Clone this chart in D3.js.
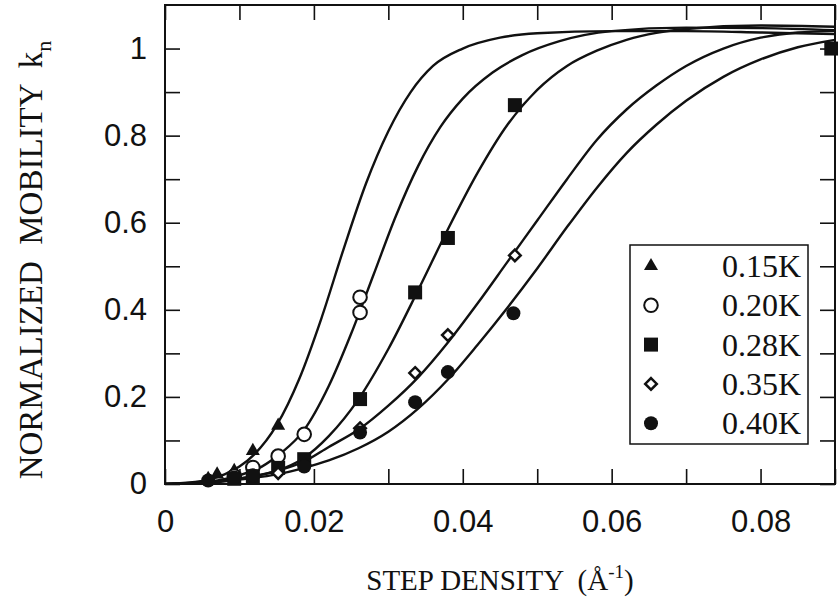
<!DOCTYPE html>
<html>
<head>
<meta charset="utf-8">
<script src="https://cdn.jsdelivr.net/npm/d3@7"></script>
<style>
  body { margin: 0; background: #fff; }
  svg { display: block; }
</style>
</head>
<body>
<svg></svg>
<script>
// measured points, one array pair per temperature
const temps = ["0.15K", "0.20K", "0.28K", "0.35K", "0.40K"];
const shapes = ["triangle", "circleOpen", "square", "diamond", "circleFilled"];

const pts015x = [0.0058, 0.0070, 0.0093, 0.0118, 0.0152];
const pts015y = [0.012, 0.022, 0.030, 0.076, 0.134];
const pts020x = [0.0093, 0.0118, 0.0152, 0.0187, 0.0262, 0.0262];
const pts020y = [0.018, 0.038, 0.064, 0.114, 0.394, 0.429];
const pts028x = [0.0093, 0.0118, 0.0152, 0.0187, 0.0262, 0.0336, 0.0380, 0.0470, 0.0895];
const pts028y = [0.012, 0.018, 0.037, 0.057, 0.195, 0.440, 0.565, 0.870, 1.000];
const pts035x = [0.0118, 0.0152, 0.0187, 0.0262, 0.0336, 0.0380, 0.0470];
const pts035y = [0.015, 0.025, 0.045, 0.128, 0.255, 0.342, 0.525];
const pts040x = [0.0058, 0.0093, 0.0118, 0.0187, 0.0262, 0.0336, 0.0380, 0.0468];
const pts040y = [0.008, 0.015, 0.020, 0.040, 0.118, 0.188, 0.257, 0.392];

// fitted curves
const fit015x = [0, 0.005, 0.008, 0.010, 0.012, 0.015, 0.018, 0.021, 0.024, 0.027, 0.030, 0.033, 0.036, 0.040, 0.045, 0.050, 0.060, 0.070, 0.080, 0.090];
const fit015y = [0, 0.007, 0.022, 0.040, 0.068, 0.135, 0.240, 0.380, 0.540, 0.690, 0.810, 0.900, 0.960, 1.000, 1.025, 1.035, 1.040, 1.040, 1.037, 1.033];
const fit020x = [0, 0.006, 0.010, 0.013, 0.0155, 0.0186, 0.022, 0.025, 0.028, 0.031, 0.034, 0.037, 0.040, 0.044, 0.048, 0.053, 0.060, 0.070, 0.080, 0.090];
const fit020y = [0, 0.006, 0.020, 0.040, 0.070, 0.122, 0.225, 0.345, 0.480, 0.615, 0.730, 0.820, 0.885, 0.945, 0.985, 1.017, 1.040, 1.048, 1.047, 1.042];
const fit028x = [0, 0.006, 0.010, 0.015, 0.0185, 0.022, 0.026, 0.030, 0.034, 0.038, 0.042, 0.046, 0.050, 0.054, 0.058, 0.062, 0.066, 0.070, 0.080, 0.090];
const fit028y = [0, 0.004, 0.013, 0.030, 0.058, 0.110, 0.195, 0.310, 0.445, 0.585, 0.715, 0.825, 0.905, 0.960, 0.995, 1.020, 1.036, 1.045, 1.053, 1.050];
const fit035x = [0, 0.006, 0.010, 0.015, 0.0185, 0.022, 0.026, 0.030, 0.034, 0.038, 0.042, 0.046, 0.050, 0.054, 0.058, 0.062, 0.066, 0.070, 0.075, 0.080, 0.085, 0.090];
const fit035y = [0, 0.004, 0.012, 0.030, 0.050, 0.085, 0.125, 0.180, 0.245, 0.325, 0.415, 0.510, 0.605, 0.700, 0.790, 0.860, 0.915, 0.960, 1.000, 1.025, 1.037, 1.040];
const fit040x = [0, 0.006, 0.010, 0.015, 0.0185, 0.022, 0.026, 0.030, 0.034, 0.038, 0.042, 0.046, 0.050, 0.054, 0.058, 0.062, 0.066, 0.070, 0.075, 0.080, 0.085, 0.090];
const fit040y = [0, 0.003, 0.010, 0.022, 0.036, 0.054, 0.082, 0.120, 0.173, 0.240, 0.320, 0.405, 0.495, 0.590, 0.680, 0.760, 0.825, 0.880, 0.935, 0.975, 1.003, 1.020];

const xTicks = [0, 0.01, 0.02, 0.03, 0.04, 0.05, 0.06, 0.07, 0.08, 0.09];
const yTicks = [0, 0.1, 0.2, 0.3, 0.4, 0.5, 0.6, 0.7, 0.8, 0.9, 1.0];

const points = [
  [pts015x, pts015y], [pts020x, pts020y], [pts028x, pts028y], [pts035x, pts035y], [pts040x, pts040y],
].map(([xs, ys]) => xs.map((v, i) => ({ x: v, y: ys[i] })));
const fits = [
  [fit015x, fit015y], [fit020x, fit020y], [fit028x, fit028y], [fit035x, fit035y], [fit040x, fit040y],
].map(([xs, ys]) => xs.map((v, i) => ({ x: v, y: ys[i] })));

// 边距、宽高
const W = 838, H = 602;
const margin = { top: 5, right: 3, bottom: 118, left: 165 };
const width = W - margin.left - margin.right;
const height = H - margin.top - margin.bottom;

const x = d3.scaleLinear().domain([0, 0.09]).range([0, width]);
const y = d3.scaleLinear().domain([0, 1.1]).range([height, 0]);

const svg = d3.select("svg").attr("width", W).attr("height", H);
const g = svg.append("g").attr("transform", `translate(${margin.left},${margin.top})`);

const sans = "'Liberation Sans', Arial, Helvetica, sans-serif";
const serif = "'Liberation Serif', 'Times New Roman', Times, serif";

// axes, ticks pointing inward
const fmtX = (d, i) => (i % 2 ? "" : d === 0 ? "0" : d.toFixed(2));
const fmtY = (d, i) => (i % 2 ? "" : d === 0 ? "0" : d === 1 ? "1" : d.toFixed(1));

g.append("g")
  .attr("class", "x-axis")
  .attr("transform", `translate(0,${height})`)
  .call(d3.axisBottom(x).tickValues(xTicks).tickFormat(fmtX).tickSizeInner(-15).tickSizeOuter(0).tickPadding(20));
g.append("g")
  .call(d3.axisTop(x).tickValues(xTicks).tickFormat("").tickSizeInner(-15).tickSizeOuter(0));
g.append("g")
  .attr("class", "y-axis")
  .call(d3.axisLeft(y).tickValues(yTicks).tickFormat(fmtY).tickSizeInner(-15).tickSizeOuter(0).tickPadding(18));
g.append("g")
  .attr("transform", `translate(${width},0)`)
  .call(d3.axisRight(y).tickValues(yTicks).tickFormat("").tickSizeInner(-15).tickSizeOuter(0));

g.selectAll(".domain").remove();
g.selectAll(".tick line").attr("stroke", "#111").attr("stroke-width", 1.6);
g.selectAll(".x-axis text, .y-axis text")
  .attr("fill", "#111")
  .style("font-family", sans)
  .style("font-size", "31px");
g.selectAll(".x-axis text").attr("dy", "0.9em");

g.append("rect")
  .attr("x", 0).attr("y", 0)
  .attr("width", width).attr("height", height)
  .attr("fill", "none").attr("stroke", "#111").attr("stroke-width", 2);

// fitted curves
g.append("clipPath").attr("id", "clip")
  .append("rect").attr("width", width).attr("height", height);

const line = d3.line()
  .x((d) => x(d.x))
  .y((d) => y(d.y))
  .curve(d3.curveMonotoneX);

g.append("g")
  .attr("clip-path", "url(#clip)")
  .selectAll("path")
  .data(fits)
  .join("path")
  .attr("d", line)
  .attr("fill", "none")
  .attr("stroke", "#111")
  .attr("stroke-width", 2.4);

// markers
function drawMarker(sel, shape, s) {
  if (shape === "triangle") {
    sel.append("path").attr("d", d3.symbol(d3.symbolTriangle, 85 * s)()).attr("fill", "#111");
  } else if (shape === "circleOpen") {
    sel.append("circle").attr("r", 6.8 * s).attr("fill", "#fff").attr("stroke", "#111").attr("stroke-width", 2);
  } else if (shape === "square") {
    sel.append("rect").attr("x", -7 * s).attr("y", -7 * s).attr("width", 14 * s).attr("height", 14 * s).attr("fill", "#111");
  } else if (shape === "diamond") {
    const r = 5.8 * s;
    sel.append("path").attr("d", `M0,${-r}L${r},0L0,${r}L${-r},0Z`)
      .attr("fill", "#fff").attr("stroke", "#111").attr("stroke-width", 2.5);
  } else {
    sel.append("circle").attr("r", 7 * s).attr("fill", "#111");
  }
}

points.forEach((series, k) => {
  g.append("g")
    .selectAll("g")
    .data(series)
    .join("g")
    .attr("transform", (d) => `translate(${x(d.x)},${y(d.y)})`)
    .each(function () { drawMarker(d3.select(this), shapes[k], 1); });
});

// legend
const lg = g.append("g").attr("transform", `translate(${630 - margin.left},${245 - margin.top})`);
lg.append("rect")
  .attr("width", 178).attr("height", 199)
  .attr("fill", "#fff").attr("stroke", "#111").attr("stroke-width", 1.5);
temps.forEach((t, k) => {
  const row = lg.append("g").attr("transform", `translate(0,${21 + k * 39.3})`);
  const m = row.append("g").attr("transform", "translate(21,0)");
  drawMarker(m, shapes[k], 1);
  row.append("text")
    .attr("x", 171).attr("y", 11)
    .attr("text-anchor", "end")
    .attr("fill", "#111")
    .style("font-family", serif)
    .style("font-size", "32px")
    .text(t);
});

// axis titles
const xt = svg.append("text")
  .attr("x", margin.left + width / 2).attr("y", 590)
  .attr("text-anchor", "middle")
  .attr("fill", "#111")
  .style("font-family", serif)
  .style("font-size", "29px")
  .style("white-space", "pre");
xt.append("tspan").text("STEP DENSITY  (Å");
xt.append("tspan").attr("dy", -12).style("font-size", "19px").text("-1");
xt.append("tspan").attr("dy", 12).text(")");

const yt = svg.append("text")
  .attr("transform", `translate(42,${margin.top + 255}) rotate(-90)`)
  .attr("text-anchor", "middle")
  .attr("fill", "#111")
  .style("font-family", serif)
  .style("font-size", "33px")
  .style("white-space", "pre");
yt.append("tspan").text("NORMALIZED  MOBILITY  k");
yt.append("tspan").attr("dy", 9).style("font-size", "22px").text("n");
</script>
</body>
</html>
